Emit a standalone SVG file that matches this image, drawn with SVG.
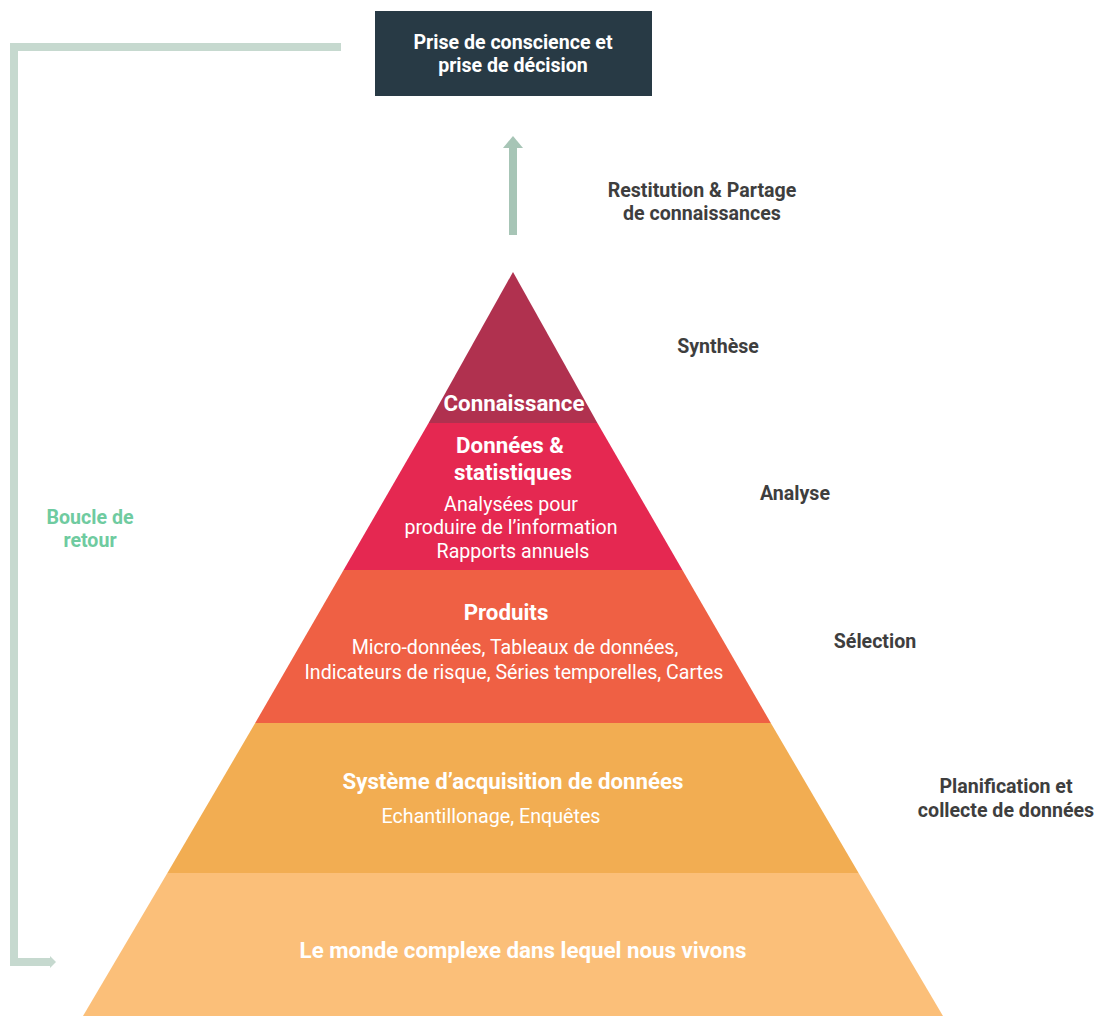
<svg xmlns="http://www.w3.org/2000/svg" width="1099" height="1016" viewBox="0 0 1099 1016">
  <style>
    text { font-family: Roboto, "Noto Sans", "Liberation Sans", sans-serif; text-anchor: middle; }
    .head { font-weight: 700; font-size: 22.3px; fill: #ffffff; }
    .body { font-weight: 400; font-size: 19.6px; fill: #ffffff; }
    .side { font-weight: 700; font-size: 19.6px; fill: #3e3e3e; }
    .loop { font-weight: 700; font-size: 19.6px; fill: #6fcba0; }
    .box  { font-weight: 700; font-size: 19.6px; fill: #ffffff; }
  </style>
  <rect width="1099" height="1016" fill="#ffffff"/>

  <!-- connectors -->
  <g id="connectors">
    <path d="M341,47 H14 V962 H50" fill="none" stroke="#c6d9cf" stroke-width="8"/>
    <path d="M50,956 L56,962 L50,968 Z" fill="#c6d9cf"/>
    <rect x="509" y="146" width="8" height="89" fill="#a7c5b6"/>
    <path d="M503,148 L513,136 L523,148 Z" fill="#a7c5b6"/>
  </g>

  <!-- top decision box -->
  <g id="node-decision">
    <rect x="375" y="11" width="277" height="85" fill="#283a45"/>
    <text class="box" x="513" y="49">Prise de conscience et</text>
    <text class="box" x="513" y="72">prise de décision</text>
  </g>

  <!-- pyramid layers (apex 513,272; base 83..943 at y=1016) -->
  <g id="layer-monde">
    <polygon points="167.4,873 858.6,873 943,1016 83,1016" fill="#fbbf79"/>
    <text class="head" x="523" y="958">Le monde complexe dans lequel nous vivons</text>
  </g>
  <g id="layer-acquisition">
    <polygon points="255.2,723 770.8,723 858.6,873 167.4,873" fill="#f2ad52"/>
    <text class="head" x="513" y="789" textLength="341" lengthAdjust="spacingAndGlyphs">Système d’acquisition de données</text>
    <text class="body" x="491" y="823" textLength="219" lengthAdjust="spacingAndGlyphs">Echantillonage, Enquêtes</text>
  </g>
  <g id="layer-produits">
    <polygon points="343.6,570 682.4,570 770.8,723 255.2,723" fill="#ef6044"/>
    <text class="head" x="506" y="620">Produits</text>
    <text class="body" x="515" y="654">Micro-données, Tableaux de données,</text>
    <text class="body" x="514" y="679">Indicateurs de risque, Séries temporelles, Cartes</text>
  </g>
  <g id="layer-donnees">
    <polygon points="428.6,423 597.4,423 682.4,570 343.6,570" fill="#e52851"/>
    <text class="head" x="510" y="453">Données &amp;</text>
    <text class="head" x="513" y="480">statistiques</text>
    <text class="body" x="511" y="511">Analysées pour</text>
    <text class="body" x="511" y="534">produire de l’information</text>
    <text class="body" x="513" y="558">Rapports annuels</text>
  </g>
  <g id="layer-connaissance">
    <polygon points="513,272 597.4,423 428.6,423" fill="#b0314f"/>
    <text class="head" x="514" y="411">Connaissance</text>
  </g>

  <!-- side labels -->
  <g id="label-restitution">
    <text class="side" x="702" y="197">Restitution &amp; Partage</text>
    <text class="side" x="702" y="220">de connaissances</text>
  </g>
  <g id="label-synthese"><text class="side" x="718" y="353">Synthèse</text></g>
  <g id="label-analyse"><text class="side" x="795" y="500">Analyse</text></g>
  <g id="label-selection"><text class="side" x="875" y="648">Sélection</text></g>
  <g id="label-planification">
    <text class="side" x="1006" y="793">Planification et</text>
    <text class="side" x="1006" y="817">collecte de données</text>
  </g>
  <g id="label-boucle">
    <text class="loop" x="90" y="524">Boucle de</text>
    <text class="loop" x="90" y="547">retour</text>
  </g>
</svg>
